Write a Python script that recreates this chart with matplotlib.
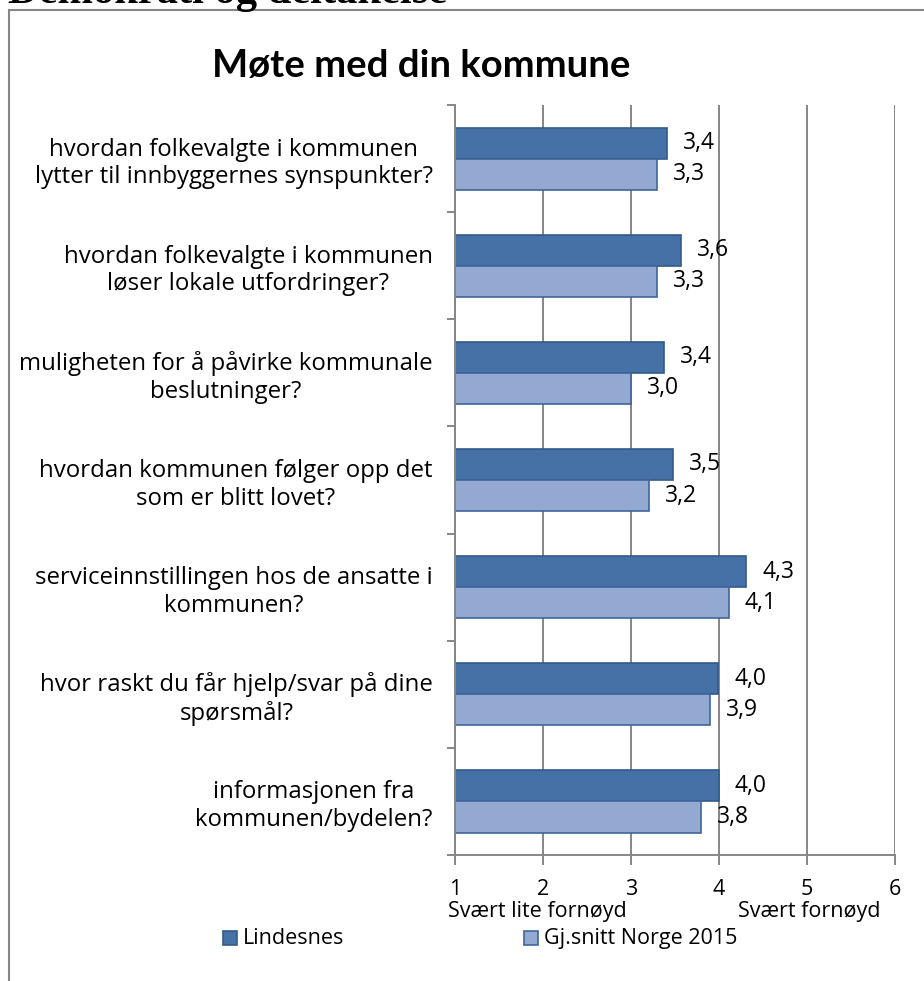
import matplotlib
matplotlib.use('Agg')
import matplotlib.pyplot as plt
from matplotlib.patches import Rectangle

plt.rcParams['font.family'] = ['Open Sans', 'DejaVu Sans']

categories = [
    'hvordan folkevalgte i kommunen\nlytter til innbyggernes synspunkter?',
    'hvordan folkevalgte i kommunen\nløser lokale utfordringer?',
    'muligheten for å påvirke kommunale\nbeslutninger?',
    'hvordan kommunen følger opp det\nsom er blitt lovet?',
    'serviceinnstillingen hos de ansatte i\nkommunen?',
    'hvor raskt du får hjelp/svar på dine\nspørsmål?',
    'informasjonen fra\nkommunen/bydelen?',
]
lindesnes = [3.41, 3.57, 3.37, 3.48, 4.31, 3.99, 4.00]
norge_2015 = [3.30, 3.30, 3.00, 3.20, 4.11, 3.90, 3.80]
series_names = ['Lindesnes', 'Gj.snitt Norge 2015']
x_ticks = [1, 2, 3, 4, 5, 6]

dark = '#4571A6'
dark_edge = '#325A8A'
light = '#94A9D1'
light_edge = '#3F659C'
grey = '#868686'
fs = 15.5

W, H = 924, 981
fig = plt.figure(figsize=(W / 100, H / 100), dpi=100)
ax = fig.add_axes([455 / W, 1 - 855 / H, 440 / W, 750 / H])

# Bars, first category on top.
h = 0.29
ypos = list(range(len(categories)))
left = x_ticks[0]
ax.barh([y - h / 2 for y in ypos], [v - left for v in lindesnes], height=h, left=left,
        color=dark, edgecolor=dark_edge, linewidth=1.2, label=series_names[0])
ax.barh([y + h / 2 for y in ypos], [v - left for v in norge_2015], height=h, left=left,
        color=light, edgecolor=light_edge, linewidth=1.2, label=series_names[1])

# Value labels with comma decimal.
for y, v in zip(ypos, lindesnes):
    ax.annotate(f'{v:.1f}'.replace('.', ','), (v, y - h / 2), xytext=(11.5, 0),
                textcoords='offset points', ha='left', va='center', fontsize=16.5)
for y, v in zip(ypos, norge_2015):
    ax.annotate(f'{v:.1f}'.replace('.', ','), (v, y + h / 2), xytext=(11.5, 0),
                textcoords='offset points', ha='left', va='center', fontsize=16.5)

ax.set_xlim(1, 6)
ax.set_ylim(len(categories) - 0.5, -0.5)
ax.set_xticks(x_ticks)
ax.set_xticklabels([str(t) for t in x_ticks], fontsize=fs)
ax.set_yticks([y - 0.5 for y in range(len(categories) + 1)])
ax.set_yticklabels([])
ax.set_yticks(ypos, minor=True)
ax.set_yticklabels(categories, minor=True, fontsize=17.3)
for lab in ax.get_yticklabels(minor=True):
    lab.set_multialignment('center')
    lab.set_linespacing(1.2)

ax.tick_params(axis='x', length=7, width=1.4, color=grey, pad=10)
ax.tick_params(axis='y', which='major', length=6, width=1.4, color=grey)
ax.tick_params(axis='y', which='minor', length=0, pad=16)

ax.grid(axis='x', color=grey, linewidth=1.4)
ax.set_axisbelow(True)
for s in ['top', 'right']:
    ax.spines[s].set_visible(False)
for s in ['left', 'bottom']:
    ax.spines[s].set_color(grey)
    ax.spines[s].set_linewidth(1.4)

# Axis end descriptions
fig.text(448 / W, 1 - 911 / H, 'Svært lite fornøyd', fontsize=fs, ha='left', va='center')
fig.text(738 / W, 1 - 911 / H, 'Svært fornøyd', fontsize=fs, ha='left', va='center')

# Chart title and cut-off page heading
fig.text(421 / W, 1 - 77 / H, 'Møte med din kommune', fontsize=27.5, fontweight='bold',
         family='Lato', ha='center', va='baseline')
fig.text(8 / W, 1 - 3 / H, 'Demokrati og deltakelse', fontsize=30.6, fontweight='bold',
         family='Liberation Serif', ha='left', va='baseline')

# Chart border
fig.patches.append(Rectangle((9 / W, -0.1), 1.1, 1.1 - 10 / H, transform=fig.transFigure,
                             fill=False, edgecolor=grey, linewidth=1.5))

# Legend: square + text on a shared baseline
for (fc, ec), name, x0 in zip([(dark, dark_edge), (light, light_edge)], series_names, [223, 524]):
    fig.patches.append(Rectangle((x0 / W, 1 - 945 / H), 14 / W, 14 / H, transform=fig.transFigure,
                                 facecolor=fc, edgecolor=ec, linewidth=1.2))
    fig.text((x0 + 20) / W, 1 - 944 / H, name, fontsize=fs, ha='left', va='baseline')

fig.savefig('out.png', dpi=100)
